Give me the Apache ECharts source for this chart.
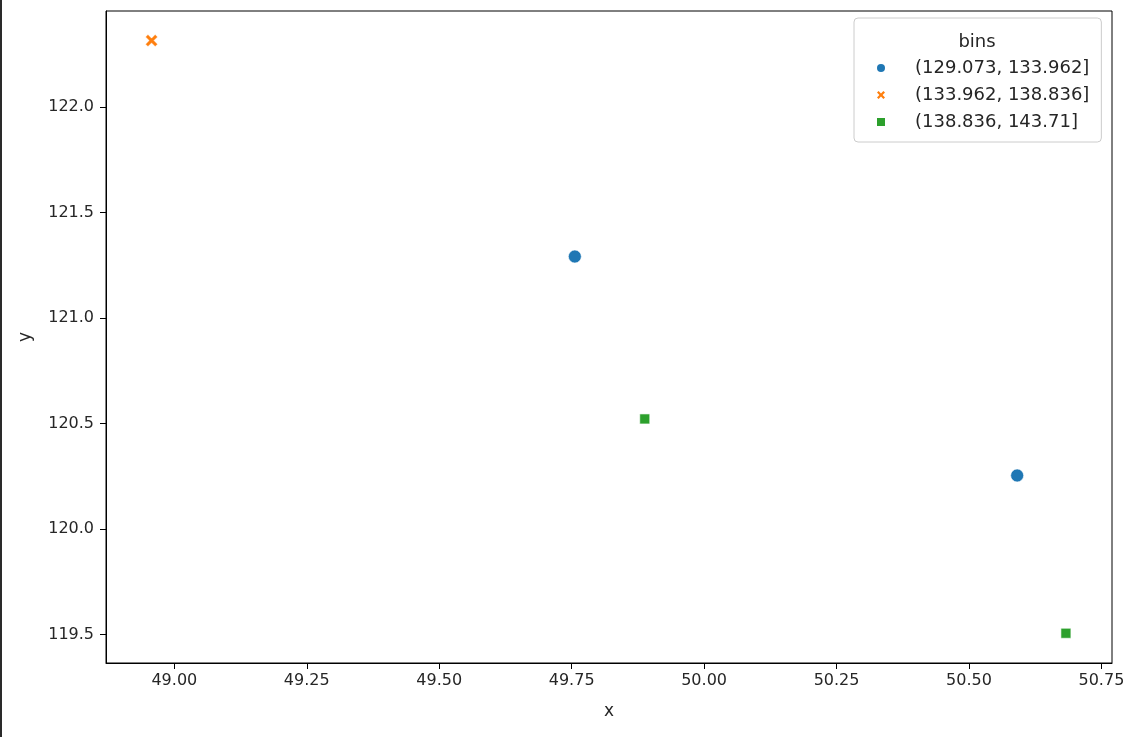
<!DOCTYPE html>
<html>
<head>
<meta charset="utf-8">
<script src="https://cdn.jsdelivr.net/npm/echarts@6/dist/echarts.min.js"></script>
<style>
html,body{margin:0;padding:0;background:#fff;}
#chart{width:1134px;height:737px;}
</style>
</head>
<body>
<div id="chart"></div>
<script>
const binLabels = ['(129.073, 133.962]', '(133.962, 138.836]', '(138.836, 143.71]'];
const bin1X = [49.756, 50.591];
const bin1Y = [121.292, 120.254];
const bin2X = [48.957];
const bin2Y = [122.316];
const bin3X = [49.888, 50.683];
const bin3Y = [120.522, 119.506];
const xTicks = [49.00, 49.25, 49.50, 49.75, 50.00, 50.25, 50.50, 50.75];
const yTicks = [119.5, 120.0, 120.5, 121.0, 121.5, 122.0];
const xRange = [48.871, 50.770];
const yRange = [119.365, 122.456];

const colors = ['#1f77b4', '#ff7f0e', '#2ca02c'];
const xPath = 'path://M0,2 L2,0 L5,3 L8,0 L10,2 L7,5 L10,8 L8,10 L5,7 L2,10 L0,8 L3,5 Z';
const font = 'DejaVu Sans';
const txt = '#262626';

function pts(xs, ys) { return xs.map((x, i) => [x, ys[i]]); }

const chart = echarts.init(document.getElementById('chart'), null, {renderer: 'canvas'});
chart.setOption({
  animation: false,
  backgroundColor: '#fff',
  textStyle: {fontFamily: font},
  grid: {left: 106, top: 11, right: 22, bottom: 74, show: true, borderColor: '#000', borderWidth: 1, backgroundColor: '#fff'},
  xAxis: {
    type: 'value', min: xRange[0], max: xRange[1],
    name: 'x', nameLocation: 'middle', nameGap: 40,
    nameTextStyle: {fontFamily: font, fontSize: 17, color: txt},
    axisLine: {show: true, lineStyle: {color: '#000', width: 1}},
    axisTick: {show: true, length: 6, lineStyle: {color: '#000'}, customValues: xTicks},
    axisLabel: {fontFamily: font, fontSize: 16, color: txt, margin: 10, customValues: xTicks, formatter: v => v.toFixed(2)},
    splitLine: {show: false}
  },
  yAxis: {
    type: 'value', min: yRange[0], max: yRange[1],
    name: 'y', nameLocation: 'middle', nameGap: 72,
    nameTextStyle: {fontFamily: font, fontSize: 17, color: txt},
    axisLine: {show: true, lineStyle: {color: '#000', width: 1}},
    axisTick: {show: true, length: 6, lineStyle: {color: '#000'}, customValues: yTicks},
    axisLabel: {fontFamily: font, fontSize: 16, color: txt, margin: 12, customValues: yTicks, formatter: v => v.toFixed(1)},
    splitLine: {show: false}
  },
  legend: {
    orient: 'vertical', left: 854, top: 18,
    padding: [41, 12, 11, 23],
    borderColor: '#cccccc', borderWidth: 1, borderRadius: 4,
    backgroundColor: 'rgba(255,255,255,0.8)',
    itemWidth: 8, itemHeight: 8, itemGap: 9,
    itemStyle: {borderWidth: 0},
    textStyle: {fontFamily: font, fontSize: 18, color: txt, lineHeight: 18, padding: [0, 0, 0, 25]},
    data: binLabels
  },
  graphic: [
    {type: 'rect', left: 0, top: 0, shape: {width: 2, height: 737}, style: {fill: '#2a2a2a'}, z: 100},
    {type: 'text', x: 977, y: 42, style: {text: 'bins', font: '18px "DejaVu Sans"', fill: txt, align: 'center', verticalAlign: 'middle'}, z: 100}
  ],
  series: [
    {name: binLabels[0], type: 'scatter', data: pts(bin1X, bin1Y), symbol: 'circle', symbolSize: 13,
     itemStyle: {color: colors[0], borderColor: '#fff', borderWidth: 0.6, opacity: 1}},
    {name: binLabels[1], type: 'scatter', data: pts(bin2X, bin2Y), symbol: xPath, symbolSize: 12,
     itemStyle: {color: colors[1], borderColor: '#fff', borderWidth: 0.4, opacity: 1}},
    {name: binLabels[2], type: 'scatter', data: pts(bin3X, bin3Y), symbol: 'rect', symbolSize: 10,
     itemStyle: {color: colors[2], borderColor: '#fff', borderWidth: 0.6, opacity: 1}}
  ]
});
</script>
</body>
</html>
